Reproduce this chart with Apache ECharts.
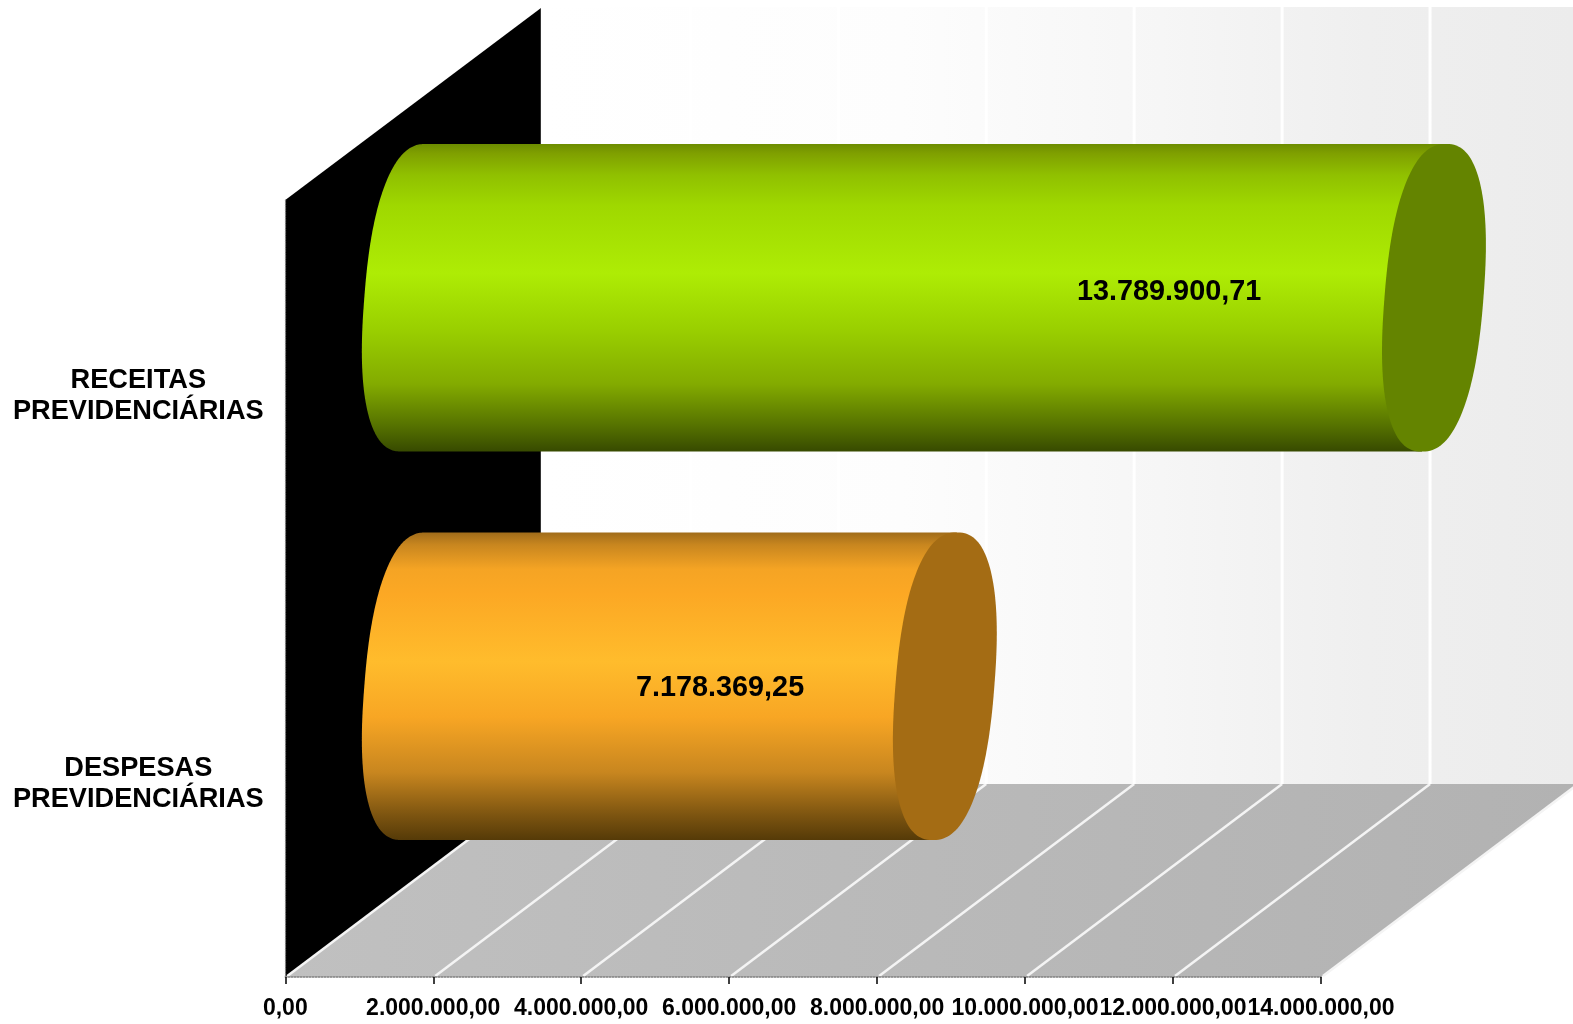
<!DOCTYPE html>
<html>
<head>
<meta charset="utf-8">
<style>html,body{margin:0;padding:0;background:#fff}#c{width:1573px;height:1024px}</style>
<script src="https://cdn.jsdelivr.net/npm/echarts@6/dist/echarts.min.js"></script>
</head>
<body>
<div id="c"></div>
<script>
const categories = ['RECEITAS\nPREVIDENCIÁRIAS', 'DESPESAS\nPREVIDENCIÁRIAS'];
const values = [13789900.71, 7178369.25];
const valueLabels = ['13.789.900,71', '7.178.369,25'];
const labelAnchor = [10210000, 4140000];
const labelShift = [-6, 2];
const gridTicks = [0, 2000000, 4000000, 6000000, 8000000, 10000000, 12000000, 14000000];

const FONT = '"Liberation Sans", Arial, sans-serif';
const DEPTH_X = 257, DEPTH_Y = -193;
const bodyStops = [
  [[0,'#6c8c00'],[0.03,'#7f9f00'],[0.1,'#90c000'],[0.2,'#9fd800'],[0.42,'#aeec05'],[0.6,'#9ad000'],[0.78,'#83ab00'],[0.92,'#547000'],[1,'#374a00']],
  [[0,'#a06c1a'],[0.04,'#c8861f'],[0.12,'#f5a424'],[0.2,'#fca824'],[0.42,'#ffbc2c'],[0.6,'#f8a624'],[0.78,'#c8861f'],[0.92,'#7c5410'],[1,'#553a08']]
];
const capColors = ['#648400', '#a46c14'];
const SHEAR = 12;

function ellipse(cx, cy, ry, from, to) {
  const a = 49.5, e = 0.84, pts = [];
  const n = 160;
  for (let i = 0; i <= n; i++) {
    const t = from + (to - from) * i / n;
    const c = Math.cos(t), d = Math.sin(t);
    const u = Math.sign(c) * Math.pow(Math.abs(c), e);
    const v = Math.sign(d) * Math.pow(Math.abs(d), e);
    pts.push([cx + a * u - SHEAR * v, cy + ry * v]);
  }
  return pts;
}

function renderRoom(params, api) {
  const cs = params.coordSys, bottom = cs.y + cs.height;
  const x0 = cs.x, x1 = cs.x + cs.width;
  const children = [
    { type: 'polygon', z2: 1, shape: { points: [[x0 + DEPTH_X, cs.y + DEPTH_Y], [1573, cs.y + DEPTH_Y], [1573, bottom + DEPTH_Y], [x0 + DEPTH_X, bottom + DEPTH_Y]] },
      style: { fill: new echarts.graphic.LinearGradient(0, 0, 1, 0, [{ offset: 0, color: '#ffffff' }, { offset: 0.35, color: '#fdfdfd' }, { offset: 0.6, color: '#f6f6f6' }, { offset: 0.8, color: '#efefef' }, { offset: 1, color: '#ececec' }]) } },
    { type: 'polygon', z2: 2, shape: { points: [[x0, cs.y], [x0 + DEPTH_X, cs.y + DEPTH_Y], [x0 + DEPTH_X, bottom + DEPTH_Y], [x0, bottom]] },
      style: { fill: '#000000' } },
    { type: 'polygon', z2: 2, shape: { points: [[x0, bottom], [x1, bottom], [x1 + DEPTH_X, bottom + DEPTH_Y], [x0 + DEPTH_X, bottom + DEPTH_Y]] },
      style: { fill: new echarts.graphic.LinearGradient(0, 0, 1, 0, [{ offset: 0, color: '#c0c0c0' }, { offset: 1, color: '#b2b2b2' }]) } }
  ];
  gridTicks.forEach(function (v) {
    const x = api.coord([v, 0])[0];
    children.push({ type: 'line', z2: 3, shape: { x1: x + 2, y1: bottom - 1, x2: x + DEPTH_X, y2: bottom + DEPTH_Y },
      style: { stroke: '#f4f4f4', lineWidth: 2.6 } });
    children.push({ type: 'line', z2: 3, shape: { x1: x + DEPTH_X, y1: bottom + DEPTH_Y, x2: x + DEPTH_X, y2: cs.y + DEPTH_Y },
      style: { stroke: '#ffffff', lineWidth: 3 } });
  });
  return { type: 'group', children: children };
}

function renderCylinder(params, api) {
  const idx = api.value(0), val = api.value(1);
  const band = api.size([0, 1])[1];
  const ry = band * 0.396;
  const start = api.coord([0, idx]), end = api.coord([val, idx]);
  const dx = DEPTH_X / 2, dy = DEPTH_Y / 2;
  const sx = start[0] + dx, cy = start[1] + dy, ex = end[0] + dx;
  const left = ellipse(sx, cy, ry, -Math.PI / 2, -Math.PI * 1.5);
  const right = [[ex - SHEAR, cy + ry], [ex + SHEAR, cy - ry]];
  const stops = bodyStops[idx].map(function (s) { return { offset: s[0], color: s[1] }; });
  const lx = api.coord([labelAnchor[idx], idx])[0] + dx;
  return {
    type: 'group',
    children: [
      { type: 'polygon', shape: { points: left.concat(right) },
        style: { fill: new echarts.graphic.LinearGradient(0, 0, 0, 1, stops) } },
      { type: 'polygon', shape: { points: ellipse(ex, cy, ry, 0, Math.PI * 2) },
        style: { fill: capColors[idx] } },
      { type: 'text', style: { text: valueLabels[idx], x: lx, y: cy + labelShift[idx], align: 'center', verticalAlign: 'middle',
        font: 'bold 28.8px ' + FONT, fill: '#000' } }
    ]
  };
}

const chart = echarts.init(document.getElementById('c'), null, { renderer: 'canvas' });
chart.setOption({
  animation: false,
  backgroundColor: '#ffffff',
  grid: { left: 285.3, right: 252, top: 200, bottom: 47, containLabel: false },
  xAxis: {
    type: 'value', position: 'bottom', min: 0, max: 14000000, interval: 2000000, z: 10,
    splitLine: { show: false },
    axisLine: { show: true, lineStyle: { color: '#808080', width: 1.5, type: 'dotted' } },
    axisTick: { show: true, length: 7, lineStyle: { color: '#000', width: 1.5 } },
    axisLabel: { margin: 20, color: '#000', fontFamily: FONT, fontWeight: 'bold', fontSize: 23,
      showMinLabel: true, showMaxLabel: true,
      formatter: function (v) { return String(v).replace(/\B(?=(\d{3})+$)/g, '.') + ',00'; } }
  },
  yAxis: {
    type: 'category', inverse: true, data: categories, z: 10,
    axisLine: { show: true, lineStyle: { color: '#808080', width: 1.2, type: 'dotted' } },
    axisTick: { show: false },
    axisLabel: { margin: 147, align: 'center', color: '#000', fontFamily: FONT, fontWeight: 'bold', fontSize: 27.2, lineHeight: 31,
      formatter: function (v) { return '{t|' + v.replace('\n', '}\n{t|') + '}'; },
      rich: { t: { fontFamily: FONT, fontWeight: 'bold', fontSize: 27.2, lineHeight: 31, color: '#000', padding: [3, 0, 0, 0] } } }
  },
  series: [
    { type: 'custom', z: 1, silent: true, renderItem: renderRoom, data: [[0, 0]], encode: { x: 0, y: 1 } },
    { type: 'custom', z: 3, silent: true, renderItem: renderCylinder,
      encode: { x: 1, y: 0 }, data: values.map(function (v, i) { return [i, v]; }) }
  ]
});
</script>
</body>
</html>
